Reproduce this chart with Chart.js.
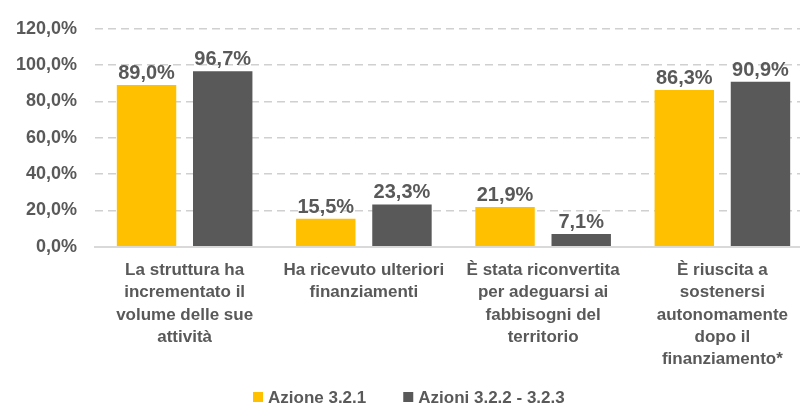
<!DOCTYPE html>
<html>
<head>
<meta charset="utf-8">
<script src="https://cdn.jsdelivr.net/npm/chart.js@4/dist/chart.umd.min.js"></script>
<style>
  html, body { margin: 0; padding: 0; background: #fff; overflow: hidden; }
  #wrap { width: 800px; height: 405px; overflow: hidden; }
</style>
</head>
<body>
<div id="wrap"><canvas id="myChart" width="812" height="405"></canvas></div>
<script>
// categories and values
var categories = [
    ['La struttura ha', 'incrementato il', 'volume delle sue', 'attività'],
    ['Ha ricevuto ulteriori', 'finanziamenti'],
    ['È stata riconvertita', 'per adeguarsi ai', 'fabbisogni del', 'territorio'],
    ['È riuscita a', 'sostenersi', 'autonomamente', 'dopo il', 'finanziamento*']
];
var azione321 = [89.0, 15.5, 21.9, 86.3];
var azioni322 = [96.7, 23.3, 7.1, 90.9];
var seriesNames = ['Azione 3.2.1', 'Azioni 3.2.2 - 3.2.3'];
var seriesColors = ['#FFC000', '#595959'];

var textColor = '#595959';
var fontFamily = "'Liberation Sans', Arial, sans-serif";

function pct(v) {
    return v.toFixed(1).replace('.', ',') + '%';
}

// values above the bars + legend under the labels
var extras = {
    id: 'extras',
    afterDatasetsDraw: function (chart) {
        var ctx = chart.ctx;
        ctx.save();
        ctx.font = 'bold 20px ' + fontFamily;
        ctx.fillStyle = textColor;
        ctx.textAlign = 'center';
        ctx.textBaseline = 'alphabetic';
        chart.data.datasets.forEach(function (ds, i) {
            var meta = chart.getDatasetMeta(i);
            meta.data.forEach(function (bar, j) {
                ctx.fillText(pct(ds.data[j]), bar.x, bar.y - 6);
            });
        });

        // legend
        ctx.font = 'bold 17px ' + fontFamily;
        ctx.textAlign = 'left';
        ctx.textBaseline = 'middle';
        var x = 253, y = 397, gap = 37, box = 10;
        seriesNames.forEach(function (n, i) {
            ctx.fillStyle = seriesColors[i];
            ctx.fillRect(x, y - box / 2, box, box);
            ctx.fillStyle = textColor;
            ctx.fillText(n, x + box + 5, y + 1);
            x += box + 5 + ctx.measureText(n).width + gap;
        });
        ctx.restore();
    }
};

var ctx = document.getElementById('myChart').getContext('2d');
var myChart = new Chart(ctx, {
    type: 'bar',
    data: {
        labels: categories,
        datasets: [{
            label: seriesNames[0],
            data: azione321,
            backgroundColor: seriesColors[0],
            categoryPercentage: 0.85,
            barPercentage: 0.78
        },
        {
            label: seriesNames[1],
            data: azioni322,
            backgroundColor: seriesColors[1],
            categoryPercentage: 0.85,
            barPercentage: 0.78
        }]
    },
    options: {
        responsive: false,
        animation: false,
        layout: { padding: { top: 11, right: 0, left: 12, bottom: 30 } },
        plugins: {
            legend: { display: false },
            tooltip: { enabled: false }
        },
        scales: {
            x: {
                grid: { display: false },
                border: { color: '#D9D9D9', width: 2 },
                ticks: {
                    color: textColor,
                    font: { family: fontFamily, size: 17, weight: 'bold', lineHeight: 1.32 },
                    maxRotation: 0,
                    autoSkip: false,
                    padding: 4
                }
            },
            y: {
                min: 0,
                max: 120,
                afterFit: function (axis) { axis.width = 83; },
                ticks: {
                    stepSize: 20,
                    color: textColor,
                    font: { family: fontFamily, size: 18, weight: 'bold' },
                    padding: 18,
                    callback: function (v) { return pct(v); }
                },
                border: { display: false, dash: [8, 5] },
                grid: { color: '#D0D0D0', lineWidth: 1.5, drawTicks: false }
            }
        }
    },
    plugins: [extras]
});
</script>
</body>
</html>
